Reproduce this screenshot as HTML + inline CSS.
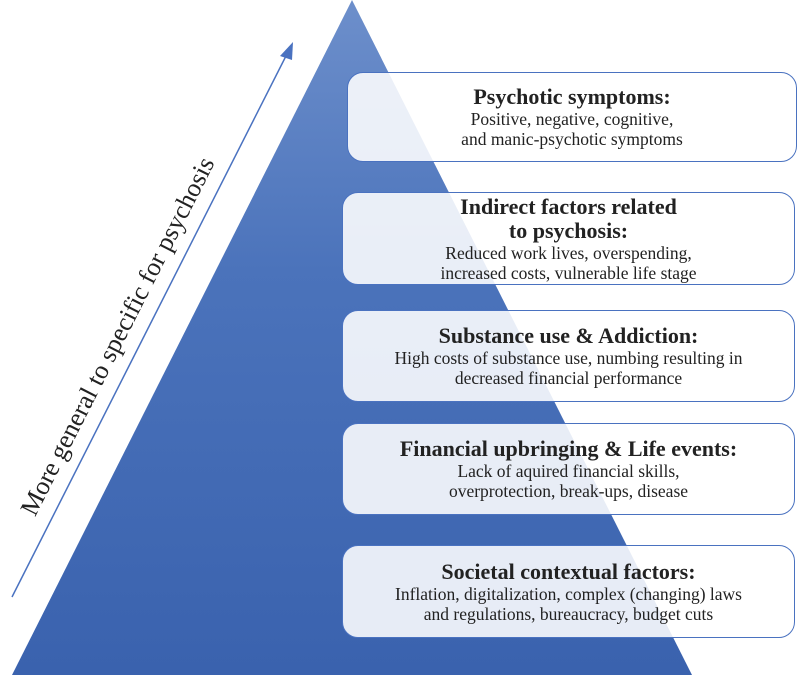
<!DOCTYPE html>
<html><head><meta charset="utf-8"><style>
body{margin:0;width:800px;height:675px;overflow:hidden;background:#fff;font-family:"Liberation Serif",serif;}
.box{position:absolute;left:342px;width:453px;border:1.5px solid #4a72c0;border-radius:16px;background:rgba(255,255,255,0.88);text-align:center;color:#222;box-sizing:border-box;display:flex;flex-direction:column;justify-content:center;}
.h{font-weight:bold;font-size:22px;line-height:24px;}
.t{font-size:17.5px;line-height:20px;}
</style></head><body>
<svg width="800" height="675" style="position:absolute;left:0;top:0">
<defs><linearGradient id="g" x1="0" y1="0" x2="0" y2="1"><stop offset="0" stop-color="#6d8fcb"/><stop offset="0.4" stop-color="#4b73bb"/><stop offset="1" stop-color="#3a62ae"/></linearGradient></defs>
<polygon points="352,0 12,675 692,675" fill="url(#g)"/>
<line x1="12" y1="597" x2="288" y2="52" stroke="#4a72c0" stroke-width="1.5"/>
<polygon points="293,42 280,56 292,60" fill="#4a72c0"/>
<text x="0" y="0" font-family="Liberation Serif, serif" font-size="26" fill="#222" text-anchor="middle" transform="translate(125,340) rotate(-63.1)">More general to specific for psychosis</text>
</svg>
<div class="box" style="left:347px;width:450px;top:72px;height:90px"><div class="h">Psychotic symptoms:</div><div class="t">Positive, negative, cognitive,<br>and manic-psychotic symptoms</div></div>
<div class="box" style="top:192px;height:93px"><div class="h">Indirect factors related<br>to psychosis:</div><div class="t">Reduced work lives, overspending,<br>increased costs, vulnerable life stage</div></div>
<div class="box" style="top:310px;height:92px"><div class="h">Substance use &amp; Addiction:</div><div class="t">High costs of substance use, numbing resulting in<br>decreased financial performance</div></div>
<div class="box" style="top:423px;height:92px"><div class="h">Financial upbringing &amp; Life events:</div><div class="t">Lack of aquired financial skills,<br>overprotection, break-ups, disease</div></div>
<div class="box" style="top:545px;height:93px"><div class="h">Societal contextual factors:</div><div class="t">Inflation, digitalization, complex (changing) laws<br>and regulations, bureaucracy, budget cuts</div></div>
</body></html>
